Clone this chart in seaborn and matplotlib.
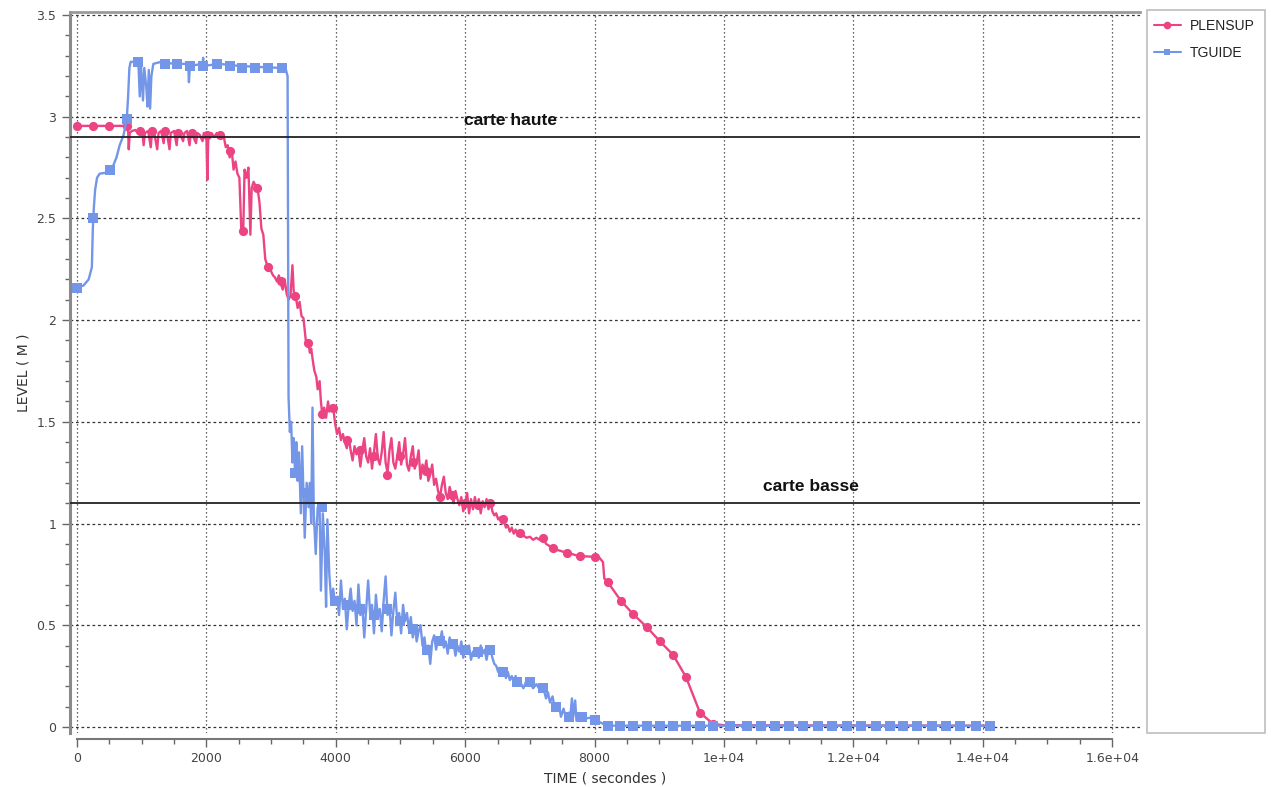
import numpy as np
import pandas as pd
import matplotlib
matplotlib.use("Agg")
import matplotlib.pyplot as plt
from matplotlib.lines import Line2D
from matplotlib.patches import Rectangle
from matplotlib.ticker import MultipleLocator, FixedLocator, FixedFormatter
import seaborn as sns

# ---------------------------------------------------------------------------
# Data: time (s) / level (m)
# ---------------------------------------------------------------------------
PLENSUP = [
    (0, 2.955), (770, 2.955), (790, 2.94), (800, 2.84), (815, 2.92), (850, 2.93),
    (900, 2.935), (940, 2.92), (980, 2.93), (1010, 2.93), (1030, 2.86), (1050, 2.92),
    (1100, 2.93), (1140, 2.85), (1160, 2.93), (1200, 2.91), (1240, 2.84), (1260, 2.92),
    (1300, 2.93), (1340, 2.87), (1360, 2.93), (1400, 2.90), (1430, 2.84), (1450, 2.92),
    (1500, 2.93), (1540, 2.86), (1560, 2.92), (1600, 2.91), (1640, 2.88), (1660, 2.92),
    (1700, 2.93), (1740, 2.86), (1760, 2.92), (1800, 2.90), (1840, 2.87), (1860, 2.92),
    (1900, 2.91), (1940, 2.88), (1960, 2.92), (2000, 2.91), (2015, 2.69), (2030, 2.91),
    (2080, 2.92), (2120, 2.90), (2160, 2.92), (2200, 2.91), (2240, 2.92), (2270, 2.90),
    (2300, 2.85), (2330, 2.86), (2360, 2.80), (2390, 2.84), (2420, 2.74), (2450, 2.78),
    (2480, 2.72), (2510, 2.70), (2540, 2.44), (2570, 2.44), (2590, 2.74), (2620, 2.70),
    (2650, 2.75), (2680, 2.42), (2700, 2.65), (2730, 2.68), (2760, 2.66), (2790, 2.65),
    (2820, 2.58), (2850, 2.45), (2880, 2.42), (2910, 2.30), (2940, 2.27), (2970, 2.25),
    (3000, 2.24), (3030, 2.22), (3060, 2.21), (3090, 2.19), (3120, 2.22), (3150, 2.18),
    (3180, 2.15), (3210, 2.20), (3240, 2.13), (3270, 2.10), (3300, 2.12), (3330, 2.27),
    (3350, 2.14), (3380, 2.12), (3410, 2.06), (3440, 2.09), (3470, 2.02), (3500, 2.01),
    (3520, 1.95), (3540, 1.89), (3570, 1.90), (3600, 1.84), (3620, 1.86), (3650, 1.79),
    (3670, 1.75), (3700, 1.72), (3720, 1.66), (3750, 1.70), (3770, 1.60), (3790, 1.54),
    (3820, 1.57), (3850, 1.52), (3880, 1.60), (3900, 1.55), (3930, 1.58), (3960, 1.57),
    (3990, 1.49), (4020, 1.44), (4050, 1.47), (4080, 1.41), (4110, 1.44), (4140, 1.40),
    (4170, 1.37), (4200, 1.42), (4230, 1.36), (4260, 1.31), (4290, 1.38), (4320, 1.34),
    (4350, 1.36), (4380, 1.28), (4410, 1.36), (4440, 1.42), (4470, 1.33), (4500, 1.30),
    (4530, 1.37), (4560, 1.27), (4590, 1.35), (4620, 1.44), (4650, 1.32), (4680, 1.29),
    (4710, 1.35), (4740, 1.45), (4770, 1.30), (4800, 1.25), (4830, 1.36), (4860, 1.42),
    (4890, 1.30), (4920, 1.27), (4950, 1.33), (4980, 1.40), (5010, 1.29), (5040, 1.34),
    (5070, 1.42), (5100, 1.29), (5130, 1.26), (5160, 1.33), (5190, 1.38), (5220, 1.27),
    (5250, 1.30), (5280, 1.36), (5310, 1.22), (5340, 1.29), (5370, 1.26), (5400, 1.31),
    (5430, 1.21), (5460, 1.24), (5490, 1.29), (5520, 1.19), (5550, 1.22), (5580, 1.16),
    (5610, 1.13), (5640, 1.19), (5670, 1.23), (5700, 1.15), (5730, 1.12), (5760, 1.18),
    (5790, 1.14), (5820, 1.10), (5850, 1.16), (5880, 1.12), (5910, 1.09), (5940, 1.13),
    (5970, 1.06), (6000, 1.10), (6030, 1.15), (6060, 1.05), (6090, 1.12), (6120, 1.07),
    (6150, 1.13), (6180, 1.08), (6210, 1.12), (6240, 1.05), (6270, 1.11), (6300, 1.08),
    (6330, 1.12), (6360, 1.07), (6390, 1.11), (6420, 1.06), (6450, 1.04), (6480, 1.05),
    (6510, 1.02), (6540, 1.03), (6570, 1.00), (6600, 1.01), (6630, 0.98), (6660, 0.99),
    (6690, 0.96), (6720, 0.98), (6750, 0.95), (6780, 0.97), (6810, 0.94), (6850, 0.955),
    (6900, 0.94), (6950, 0.93), (7000, 0.935), (7050, 0.92), (7100, 0.93), (7150, 0.92),
    (7200, 0.93), (7250, 0.90), (7300, 0.89), (7360, 0.88), (7420, 0.87), (7480, 0.865),
    (7570, 0.855), (7650, 0.85), (7700, 0.845), (7775, 0.84), (7900, 0.838), (8006, 0.836),
    (8080, 0.83), (8130, 0.81), (8150, 0.73), (8207, 0.71), (8408, 0.62), (8594, 0.555),
    (8810, 0.49), (9011, 0.42), (9212, 0.355), (9413, 0.245), (9629, 0.07), (9830, 0.015),
    (10000, 0.008), (14111, 0.006),
]

TGUIDE = [
    (0, 2.16), (100, 2.17), (180, 2.20), (230, 2.26), (245, 2.45), (260, 2.55),
    (280, 2.64), (310, 2.70), (350, 2.72), (450, 2.725), (510, 2.74), (560, 2.76),
    (610, 2.80), (660, 2.86), (720, 2.91), (770, 2.99), (790, 3.10), (810, 3.24),
    (830, 3.27), (900, 3.27), (950, 3.26), (970, 3.10), (990, 3.25), (1020, 3.08),
    (1040, 3.24), (1070, 3.15), (1090, 3.05), (1110, 3.23), (1130, 3.04), (1150, 3.20),
    (1180, 3.26), (1300, 3.27), (1500, 3.26), (1720, 3.26), (1730, 3.17), (1745, 3.25),
    (1940, 3.26), (1950, 3.29), (1960, 3.25), (2200, 3.26), (2500, 3.25), (2800, 3.245),
    (3150, 3.24), (3230, 3.23), (3255, 3.20), (3270, 1.62), (3290, 1.45), (3310, 1.50),
    (3330, 1.30), (3350, 1.42), (3370, 1.25), (3390, 1.40), (3410, 1.21), (3430, 1.35),
    (3460, 1.05), (3480, 1.38), (3500, 1.15), (3520, 0.93), (3550, 1.20), (3580, 1.08),
    (3600, 1.20), (3620, 1.00), (3640, 1.57), (3660, 1.05), (3690, 0.85), (3720, 1.08),
    (3750, 1.08), (3770, 0.67), (3800, 1.05), (3830, 0.85), (3850, 0.59), (3870, 1.02),
    (3900, 0.75), (3930, 0.62), (3960, 0.68), (3990, 0.60), (4020, 0.64), (4050, 0.55),
    (4080, 0.72), (4110, 0.58), (4140, 0.63), (4170, 0.48), (4200, 0.60), (4230, 0.68),
    (4260, 0.57), (4290, 0.62), (4320, 0.50), (4350, 0.70), (4380, 0.55), (4410, 0.60),
    (4440, 0.44), (4470, 0.58), (4500, 0.72), (4530, 0.56), (4560, 0.60), (4590, 0.46),
    (4620, 0.65), (4650, 0.54), (4680, 0.58), (4710, 0.47), (4740, 0.62), (4770, 0.74),
    (4800, 0.55), (4830, 0.60), (4860, 0.45), (4890, 0.57), (4920, 0.66), (4950, 0.52),
    (4980, 0.56), (5010, 0.46), (5040, 0.60), (5070, 0.52), (5100, 0.56), (5130, 0.48),
    (5160, 0.54), (5190, 0.44), (5220, 0.50), (5250, 0.42), (5280, 0.47), (5310, 0.50),
    (5340, 0.40), (5370, 0.44), (5400, 0.36), (5430, 0.40), (5460, 0.31), (5490, 0.42),
    (5520, 0.45), (5550, 0.38), (5580, 0.43), (5610, 0.42), (5640, 0.47), (5670, 0.39),
    (5700, 0.42), (5730, 0.36), (5760, 0.44), (5790, 0.40), (5820, 0.41), (5850, 0.35),
    (5880, 0.40), (5910, 0.37), (5940, 0.42), (5970, 0.34), (6000, 0.38), (6030, 0.36),
    (6060, 0.40), (6090, 0.33), (6120, 0.37), (6150, 0.35), (6180, 0.38), (6210, 0.34),
    (6240, 0.40), (6270, 0.36), (6300, 0.38), (6330, 0.33), (6360, 0.38), (6390, 0.38),
    (6420, 0.34), (6450, 0.31), (6480, 0.30), (6510, 0.27), (6540, 0.29), (6570, 0.26),
    (6600, 0.28), (6630, 0.24), (6660, 0.27), (6690, 0.23), (6720, 0.25), (6750, 0.22),
    (6780, 0.25), (6810, 0.21), (6850, 0.22), (6900, 0.19), (6950, 0.23), (7000, 0.22),
    (7050, 0.19), (7100, 0.21), (7160, 0.18), (7200, 0.20), (7250, 0.14), (7280, 0.17),
    (7310, 0.12), (7350, 0.15), (7380, 0.10), (7420, 0.08), (7450, 0.11), (7480, 0.05),
    (7520, 0.09), (7560, 0.04), (7600, 0.07), (7620, 0.035), (7650, 0.14), (7670, 0.05),
    (7700, 0.13), (7720, 0.03), (7775, 0.05), (7850, 0.04), (7920, 0.045), (8006, 0.035),
    (8100, 0.02), (8190, 0.006), (14111, 0.005),
]

# Symbol positions along each curve
PLENSUP_MARKS = [
    (0, 2.955), (250, 2.955), (500, 2.955), (770, 2.955), (980, 2.93), (1160, 2.93),
    (1360, 2.93), (1560, 2.92), (1780, 2.92), (2010, 2.91), (2210, 2.91), (2365, 2.83),
    (2570, 2.44), (2780, 2.65), (2950, 2.26), (3150, 2.19), (3370, 2.12), (3570, 1.89),
    (3790, 1.54), (3960, 1.57), (4180, 1.41), (4380, 1.36), (4590, 1.33), (4790, 1.24),
    (5000, 1.33), (5200, 1.30), (5400, 1.26), (5610, 1.13), (5800, 1.14), (6000, 1.10),
    (6200, 1.09), (6380, 1.10), (6580, 1.02), (6850, 0.955), (7200, 0.93), (7360, 0.88),
    (7570, 0.855), (7775, 0.84), (8006, 0.836), (8207, 0.71), (8408, 0.62), (8594, 0.555),
    (8810, 0.49), (9011, 0.42), (9212, 0.355), (9413, 0.245), (9629, 0.07), (9830, 0.015),
]
TGUIDE_MARKS = [
    (0, 2.16), (250, 2.50), (510, 2.74), (770, 2.99), (940, 3.27), (1360, 3.26),
    (1545, 3.26), (1750, 3.25), (1950, 3.25), (2160, 3.26), (2365, 3.25), (2550, 3.24),
    (2750, 3.24), (2950, 3.24), (3170, 3.24), (3370, 1.25), (3570, 1.15), (3780, 1.08),
    (3990, 0.62), (4180, 0.60), (4380, 0.58), (4590, 0.55), (4790, 0.58), (5000, 0.52),
    (5200, 0.48), (5410, 0.38), (5610, 0.42), (5810, 0.41), (6000, 0.38), (6200, 0.37),
    (6380, 0.38), (6590, 0.27), (6800, 0.22), (7000, 0.22), (7200, 0.19), (7400, 0.10),
    (7600, 0.05), (7800, 0.05), (8006, 0.035),
]
# Both levels sit on the floor after ~8200 s; symbols are shared there
FLOOR_MARK_T = [8207, 8393, 8594, 8810, 9011, 9212, 9413, 9629, 9830, 10093, 10356,
                10572, 10788, 11005, 11221, 11453, 11669, 11901, 12118, 12349, 12566,
                12767, 12983, 13215, 13431, 13648, 13895, 14111]
FLOOR_LEVEL = 0.005
PLENSUP_FLOOR_T = [10093, 10356, 10572, 10788, 11005, 11221, 11453, 11669, 11901,
                   12118, 12349, 12566, 12767, 12983, 13215, 13431, 13648, 13895, 14111]

THRESHOLDS = [2.9, 1.1]
THRESHOLD_LABELS = ["carte haute", "carte basse"]
THRESHOLD_LABEL_X = [6700, 11350]

XTICKS = [0, 2000, 4000, 6000, 8000, 10000, 12000, 14000, 16000]
XTICK_LABELS = ["0", "2000", "4000", "6000", "8000", "1e+04", "1.2e+04", "1.4e+04", "1.6e+04"]
YTICKS = [0, 0.5, 1, 1.5, 2, 2.5, 3, 3.5]
YTICK_LABELS = ["0", "0.5", "1", "1.5", "2", "2.5", "3", "3.5"]

PINK = "#EC4482"
BLUE = "#7396E8"

# ---------------------------------------------------------------------------
sns.set_theme(style="white")
plt.rcParams["font.family"] = ["DejaVu Sans"]

W, H = 1271, 787
fig = plt.figure(figsize=(W / 100, H / 100), dpi=100)
ax = fig.add_axes([70 / W, 1 - 733 / H, (1140 - 70) / W, (733 - 12) / H])

p_df = pd.DataFrame(PLENSUP, columns=["t", "v"])
g_df = pd.DataFrame(TGUIDE, columns=["t", "v"])
pm_df = pd.DataFrame(PLENSUP_MARKS + [(t, FLOOR_LEVEL) for t in PLENSUP_FLOOR_T],
                     columns=["t", "v"])
gm_df = pd.DataFrame(TGUIDE_MARKS + [(t, FLOOR_LEVEL) for t in FLOOR_MARK_T],
                     columns=["t", "v"])

sns.lineplot(data=p_df, x="t", y="v", ax=ax, color=PINK, lw=1.7,
             estimator=None, sort=False, zorder=3)
sns.scatterplot(data=pm_df, x="t", y="v", ax=ax, color=PINK, marker="o", s=44,
                linewidth=0, zorder=4)
sns.lineplot(data=g_df, x="t", y="v", ax=ax, color=BLUE, lw=1.7,
             estimator=None, sort=False, zorder=5)
sns.scatterplot(data=gm_df, x="t", y="v", ax=ax, color=BLUE, marker="s", s=42,
                linewidth=0, zorder=6)

for yv, lab, xl in zip(THRESHOLDS, THRESHOLD_LABELS, THRESHOLD_LABEL_X):
    ax.axhline(yv, color="#222222", lw=1.3, zorder=7)
    ax.text(xl, yv + 0.045, lab, ha="center", va="bottom", fontsize=12.5,
            fontweight="bold", family=["Liberation Sans", "DejaVu Sans"],
            color="#111111", zorder=8)

ax.set_xlim(-108, 16430)
ax.set_ylim(-0.03, 3.515)

ax.xaxis.set_major_locator(FixedLocator(XTICKS))
ax.xaxis.set_major_formatter(FixedFormatter(XTICK_LABELS))
ax.xaxis.set_minor_locator(MultipleLocator(500))
ax.yaxis.set_major_locator(FixedLocator(YTICKS))
ax.yaxis.set_major_formatter(FixedFormatter(YTICK_LABELS))
ax.yaxis.set_minor_locator(MultipleLocator(0.1))

ax.grid(False)
for xv in XTICKS:
    ax.axvline(xv, color="#333333", lw=0.9, ls=(0, (1, 2.2)), zorder=1)
for yv in YTICKS:
    ax.axhline(yv, color="#333333", lw=0.9, ls=(0, (2.2, 2.2)), zorder=1)

ax.tick_params(axis="both", which="major", direction="out", length=6, width=1,
               color="#666666", labelsize=9, labelcolor="#444444")
ax.tick_params(axis="both", which="minor", direction="out", length=3.5, width=1,
               color="#666666")
ax.tick_params(axis="x", which="both", bottom=True, pad=4)
ax.tick_params(axis="y", which="both", left=True, pad=4)

ax.spines["right"].set_visible(False)
ax.spines["left"].set_color("#8a8a8a")
ax.spines["left"].set_linewidth(2.2)
ax.spines["top"].set_color("#9a9a9a")
ax.spines["top"].set_linewidth(2.0)
ax.spines["bottom"].set_color("#777777")
ax.spines["bottom"].set_linewidth(1.5)
ax.spines["bottom"].set_position(("outward", 4))
ax.spines["bottom"].set_bounds(0, 16000)

ax.set_xlabel("TIME ( secondes )", fontsize=10, color="#333333", labelpad=4)
ax.set_ylabel("LEVEL ( M )", fontsize=10, color="#333333", labelpad=4)

# Legend panel on the right
fig.add_artist(Rectangle((1147 / W, 1 - 733 / H), (1265 - 1147) / W, (733 - 10) / H,
                         transform=fig.transFigure, fill=False,
                         edgecolor="#bdbdbd", lw=1.2))
handles = [
    Line2D([], [], color=PINK, lw=1.5, marker="o", markersize=5.5, markeredgewidth=0),
    Line2D([], [], color=BLUE, lw=1.5, marker="s", markersize=5, markeredgewidth=0),
]
fig.legend(handles, ["PLENSUP", "TGUIDE"], loc="upper left",
           bbox_to_anchor=(1141 / W, 1 - 6 / H), frameon=False,
           handlelength=2.0, handletextpad=0.6, labelspacing=0.95,
           prop={"family": ["Liberation Sans", "DejaVu Sans"], "size": 10},
           labelcolor="#222222")

fig.savefig("out.png", dpi=100, facecolor="white")
